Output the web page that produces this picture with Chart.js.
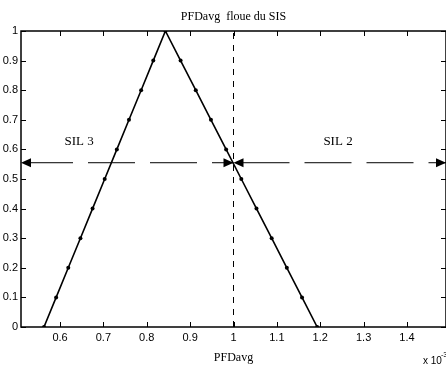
<!DOCTYPE html>
<html>
<head>
<meta charset="utf-8">
<script src="https://cdn.jsdelivr.net/npm/chart.js@4"></script>
<style>
  body { margin: 0; background: #fff; }
</style>
</head>
<body>
<canvas id="fuzzyChart" width="446" height="367"></canvas>
<script>
// PFDavg values (x 10^-3) and membership degree of the triangular fuzzy number
var pfdValues  = [0.563, 0.591, 0.619, 0.647, 0.675, 0.703, 0.731, 0.759, 0.787, 0.815, 0.843,
                  0.878, 0.913, 0.948, 0.983, 1.018, 1.053, 1.088, 1.123, 1.158, 1.193];
var membership = [0, 0.1, 0.2, 0.3, 0.4, 0.5, 0.6, 0.7, 0.8, 0.9, 1,
                  0.9, 0.8, 0.7, 0.6, 0.5, 0.4, 0.3, 0.2, 0.1, 0];

var xTicks = [0.6, 0.7, 0.8, 0.9, 1, 1.1, 1.2, 1.3, 1.4];
var yTicks = [0, 0.1, 0.2, 0.3, 0.4, 0.5, 0.6, 0.7, 0.8, 0.9, 1];

var xMin = 0.51, xMax = 1.49;
var silLimit = 1;        // SIL 3 / SIL 2 boundary
var arrowLevel = 0.555;  // height of the SIL arrows
var silNames = ["SIL 3", "SIL 2"];

var narrowFont = "'Liberation Sans Narrow', 'Arial Narrow', 'Liberation Sans', sans-serif";
var serifFont = "'Liberation Serif', 'Times New Roman', serif";

function arrowHead(ctx, tx, ty, dir) {
  ctx.beginPath();
  ctx.moveTo(tx, ty);
  ctx.lineTo(tx - dir * 10, ty - 4.5);
  ctx.lineTo(tx - dir * 10, ty + 4.5);
  ctx.closePath();
  ctx.fill();
}

function line(ctx, x1, y1, x2, y2) {
  ctx.beginPath();
  ctx.moveTo(x1, y1);
  ctx.lineTo(x2, y2);
  ctx.stroke();
}

var matlabAxes = {
  id: "matlabAxes",
  afterDatasetsDraw: function(chart) {
    var ctx = chart.ctx, a = chart.chartArea;
    var xs = chart.scales.x, ys = chart.scales.y;
    ctx.save();
    ctx.fillStyle = "#000";
    ctx.strokeStyle = "#000";

    // arrow heads on the SIL ranges
    var ay = ys.getPixelForValue(arrowLevel);
    var bx = xs.getPixelForValue(silLimit);
    arrowHead(ctx, xs.getPixelForValue(xMin), ay, -1);
    arrowHead(ctx, bx, ay, 1);
    arrowHead(ctx, bx, ay, -1);
    arrowHead(ctx, xs.getPixelForValue(xMax), ay, 1);

    // box and inward ticks
    ctx.lineWidth = 1.5;
    ctx.strokeRect(a.left, a.top, a.right - a.left, a.bottom - a.top);
    ctx.lineWidth = 1;
    xTicks.forEach(function(v) {
      var px = Math.round(xs.getPixelForValue(v)) + 0.5;
      line(ctx, px, a.bottom, px, a.bottom - 5);
      line(ctx, px, a.top, px, a.top + 5);
    });
    yTicks.forEach(function(v) {
      var py = Math.round(ys.getPixelForValue(v)) + 0.5;
      line(ctx, a.left, py, a.left + 5, py);
      line(ctx, a.right, py, a.right - 5, py);
    });

    // SIL labels
    ctx.font = "13px " + serifFont;
    ctx.textAlign = "center";
    ctx.textBaseline = "middle";
    ctx.fillText(silNames[0], xs.getPixelForValue(0.644), ys.getPixelForValue(0.628));
    ctx.fillText(silNames[1], xs.getPixelForValue(1.241), ys.getPixelForValue(0.628));

    // exponent
    ctx.textAlign = "left";
    ctx.textBaseline = "alphabetic";
    ctx.font = "10px " + narrowFont;
    ctx.fillText("x 10", 423, 364);
    ctx.font = "7px " + narrowFont;
    ctx.fillText("-3", 441, 357);
    ctx.restore();
  }
};

var pts = function(xv, yv) {
  return xv.map(function(x, i) { return {x: x, y: yv[i]}; });
};

var tickFont = {family: narrowFont, size: 11};

new Chart(document.getElementById("fuzzyChart"), {
  type: "line",
  data: {
    datasets: [
      {
        data: pts([silLimit, silLimit], [0, 1]),
        borderColor: "#000", borderWidth: 1, borderDash: [6, 6],
        pointRadius: 0
      },
      {
        data: pts([xMin, silLimit], [arrowLevel, arrowLevel]),
        borderColor: "#000", borderWidth: 1, borderDash: [47, 15], borderDashOffset: -5,
        pointRadius: 0
      },
      {
        data: pts([silLimit, xMax], [arrowLevel, arrowLevel]),
        borderColor: "#000", borderWidth: 1, borderDash: [47, 15], borderDashOffset: -9,
        pointRadius: 0
      },
      {
        data: pts(pfdValues, membership),
        borderColor: "#000", borderWidth: 1.6,
        pointRadius: 2, pointBackgroundColor: "#000", pointBorderColor: "#000", pointBorderWidth: 0
      }
    ]
  },
  options: {
    responsive: false,
    animation: false,
    layout: { padding: 0, autoPadding: false },
    plugins: {
      legend: { display: false },
      tooltip: { enabled: false },
      title: {
        display: true,
        fullSize: false,
        text: "PFDavg  floue du SIS",
        color: "#000",
        font: { family: serifFont, size: 12, weight: "normal" },
        padding: { top: 10, bottom: 6.6 }
      }
    },
    scales: {
      x: {
        type: "linear",
        min: xMin, max: xMax,
        grid: { display: false, drawTicks: false },
        border: { display: false },
        afterBuildTicks: function(s) { s.ticks = xTicks.map(function(v) { return {value: v}; }); },
        afterFit: function(s) { s.height = 40; s.paddingLeft = 0; s.paddingRight = 0; },
        ticks: { padding: 4, color: "#000", font: tickFont, maxRotation: 0, autoSkip: false,
                 callback: function(v) { return String(v); } },
        title: { display: true, text: "PFDavg", color: "#000",
                 font: { family: serifFont, size: 12 }, padding: { top: 0, bottom: 2 } }
      },
      y: {
        type: "linear",
        min: 0, max: 1,
        grid: { display: false, drawTicks: false },
        border: { display: false },
        afterBuildTicks: function(s) { s.ticks = yTicks.map(function(v) { return {value: v}; }); },
        afterFit: function(s) { s.width = 21; s.paddingTop = 0; s.paddingBottom = 0; },
        ticks: { padding: 3, color: "#000", font: tickFont, autoSkip: false,
                 callback: function(v) { return String(v); } }
      }
    }
  },
  plugins: [matlabAxes]
});
</script>
</body>
</html>
